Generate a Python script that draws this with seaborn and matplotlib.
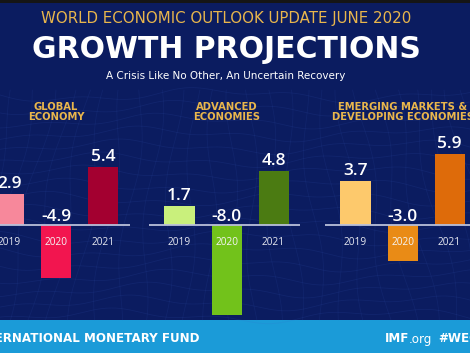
import matplotlib
matplotlib.use("Agg")
import matplotlib.pyplot as plt
import seaborn as sns
import numpy as np
import pandas as pd

# ---- data ----
years = ["2019", "2020", "2021"]
global_vals = [2.9, -4.9, 5.4]
advanced_vals = [1.7, -8.0, 4.8]
emerging_vals = [3.7, -3.0, 5.9]
panel_titles = ["GLOBAL\nECONOMY", "ADVANCED\nECONOMIES",
                "EMERGING MARKETS &\nDEVELOPING ECONOMIES"]
global_colors = ["#f7889b", "#f2154f", "#a30030"]
advanced_colors = ["#c9f07c", "#72c21b", "#4b7b12"]
emerging_colors = ["#fdc96c", "#e98b16", "#de6b0a"]

W, H = 470, 353
NAVY = "#0b1c60"
GOLD = "#e9b64c"
FOOT = "#1b9bd8"
WIDE = ['DejaVu Sans']
HX = 226 / W

sns.set_theme(style="white")
plt.rcParams['font.family'] = ['Open Sans', 'DejaVu Sans']

fig = plt.figure(figsize=(4.7, 3.53), dpi=100)
fig.patch.set_facecolor(NAVY)

# background with faint mesh
bg = fig.add_axes([0, 0, 1, 1], zorder=0)
bg.set_xlim(0, W)
bg.set_ylim(H, 0)
bg.set_facecolor(NAVY)
bg.axis('off')
xs = np.linspace(0, W, 200)
for k in range(18):
    y0 = 95 + k * 13
    bg.plot(xs, y0 + 5 * np.sin(xs / 45 + k * 0.5) + 3 * np.sin(xs / 17 + k),
            color="#3f63c8", alpha=0.13, lw=0.6)
ys = np.linspace(90, 320, 100)
for k in range(30):
    x0 = -20 + k * 18
    bg.plot(x0 + 6 * np.sin(ys / 30 + k) + (x0 - 235) * (ys - 90) / 900, ys,
            color="#3f63c8", alpha=0.11, lw=0.6)
bg.add_patch(plt.Rectangle((0, 0), W, 3, color="#151515", lw=0))
bg.add_patch(plt.Rectangle((0, 320), W, 33, color=FOOT, lw=0))

# ---- header ----
fig.text(HX, 1 - 18 / H, "WORLD ECONOMIC OUTLOOK UPDATE JUNE 2020",
         ha='center', va='center', color=GOLD, fontsize=10.8, family=WIDE)
fig.text(HX, 1 - 50 / H, "GROWTH PROJECTIONS", ha='center', va='center',
         color='white', fontsize=21.5, fontweight='bold', family=WIDE)
fig.text(HX, 1 - 76 / H, "A Crisis Like No Other, An Uncertain Recovery",
         ha='center', va='center', color='white', fontsize=7.5, family=WIDE)

# ---- panels ----
panels = [(global_vals, global_colors, 9.0, 10.8),
          (advanced_vals, advanced_colors, 179.5, 11.2),
          (emerging_vals, emerging_colors, 355.5, 12.0)]
for (vals, cols, c0, s), title in zip(panels, panel_titles):
    left = c0 - 0.64 * 47
    ax = fig.add_axes([left / W, (H - 320) / H, 151 / W, 225 / H], zorder=2)
    ax.patch.set_alpha(0)
    df = pd.DataFrame({"year": years, "value": vals})
    sns.barplot(data=df, x="year", y="value", hue="year", palette=cols,
                width=0.64, ax=ax, legend=False, saturation=1, linewidth=0)
    ax.set_xlim(-0.64, 2.57)
    ax.set_ylim(-95 / s, 130 / s)
    ax.axhline(0, color="#b9c0da", lw=1.3, zorder=3)
    ax.axis('off')
    for i, (yr, v) in enumerate(zip(years, vals)):
        if v >= 0:
            ax.annotate(f"{v:.1f}", (i, v), xytext=(0, 4.2), textcoords='offset points',
                        ha='center', va='baseline', color='white', fontsize=12.5,
                        fontweight='semibold', zorder=5)
        else:
            ax.annotate(f"{v:.1f}", (i, 0), xytext=(0, 3), textcoords='offset points',
                        ha='center', va='baseline', color='white', fontsize=12.5,
                        fontweight='semibold', zorder=5)
        ax.annotate(yr, (i, 0), xytext=(0, -12.3), textcoords='offset points',
                    ha='center', va='center', color='#e6e8f0' if v >= 0 else '#f4f4f4',
                    fontsize=7.3, zorder=5)
    fig.text((c0 + 47) / W, 1 - 112 / H, title, ha='center', va='center',
             color=GOLD, fontsize=7.2, fontweight='bold', linespacing=1.0,
             family=WIDE, zorder=6)

# ---- footer ----
fig.text(200 / W, 1 - 339 / H, "INTERNATIONAL MONETARY FUND", ha='right', va='center',
         color='white', fontsize=8.6, fontweight='bold', family=WIDE)
fig.text(409 / W, 1 - 339 / H, "IMF", ha='right', va='center',
         color='white', fontsize=8.6, fontweight='bold', family=WIDE)
fig.text(409 / W, 1 - 339 / H, ".org", ha='left', va='center',
         color='white', fontsize=8.6, family=WIDE)
fig.text(438 / W, 1 - 339 / H, "#WEO", ha='left', va='center',
         color='white', fontsize=8.6, fontweight='bold', family=WIDE)

fig.savefig("out.png", dpi=100, facecolor=NAVY)
